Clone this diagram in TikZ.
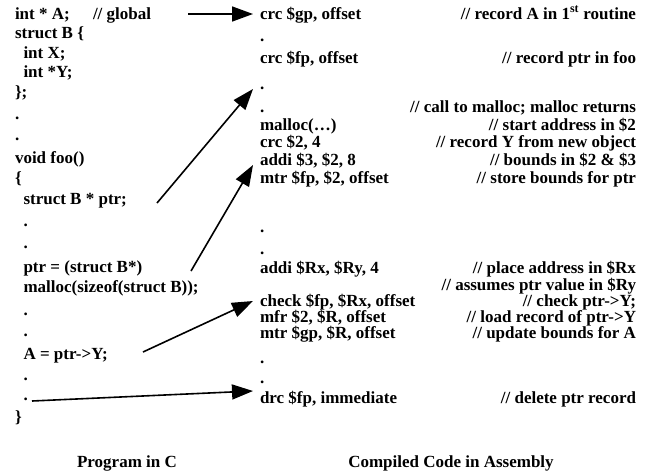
\documentclass[tikz,border=0pt]{standalone}
\usepackage{fontspec}
\setmainfont{Liberation Serif}
\usetikzlibrary{arrows.meta}
\begin{document}
\begin{tikzpicture}[x=1pt,y=-1pt,
  every node/.style={inner sep=0pt, outer sep=0pt, font=\fontsize{17}{20}\selectfont\bfseries},
  codeline/.style={anchor=base west},
  cmtline/.style={anchor=base east},
  capline/.style={anchor=base},
  arr/.style={line width=1.6pt, -{Triangle[length=21pt,width=15pt]}}]
\useasboundingbox (0,0) rectangle (652,474);
% left column: C program
\node[codeline] (l1) at (15,19) {int * A;};
\node[codeline] (g1) at (93,19) {// global};
\node[codeline] (l2) at (15,38) {struct B \{};
\node[codeline] (l3) at (23.5,58) {int X;};
\node[codeline] (l4) at (23.5,77) {int *Y;};
\node[codeline] (l5) at (15,97) {\};};
\node[codeline] (l6) at (15,119) {.};
\node[codeline] (l7) at (15,140) {.};
\node[codeline] (l8) at (15,163) {void foo()};
\node[codeline] (l9) at (15,183) {\{};
\node[codeline] (l10) at (23.5,204) {struct B * ptr;};
\node[codeline] (l11) at (23.5,226) {.};
\node[codeline] (l12) at (23.5,248) {.};
\node[codeline] (l13) at (23.5,272) {ptr = (struct B*)};
\node[codeline] (l14) at (23.5,292) {malloc(sizeof(struct B));};
\node[codeline] (l15) at (23.5,315) {.};
\node[codeline] (l16) at (23.5,336) {.};
\node[codeline] (l17) at (23.5,359) {A = ptr->Y;};
\node[codeline] (l18) at (23.5,380) {.};
\node[codeline] (l19) at (23.5,400) {.};
\node[codeline] (l20) at (15,422) {\}};
% right column: assembly
\node[codeline] (r1) at (260,19) {crc \$gp, offset};
\node[codeline] (r2) at (260,41) {.};
\node[codeline] (r3) at (260,63) {crc \$fp, offset};
\node[codeline] (r4) at (260,89) {.};
\node[codeline] (r5) at (260,112) {.};
\node[codeline] (r6) at (260,130) {malloc(…)};
\node[codeline] (r7) at (260,147) {crc \$2, 4};
\node[codeline] (r8) at (260,165) {addi \$3, \$2, 8};
\node[codeline] (r9) at (260,183) {mtr \$fp, \$2, offset};
\node[codeline] (r10) at (260,232) {.};
\node[codeline] (r11) at (260,254) {.};
\node[codeline] (r12) at (260,273) {addi \$Rx, \$Ry, 4};
\node[codeline] (r13) at (260,306) {check \$fp, \$Rx, offset};
\node[codeline] (r14) at (260,322) {mfr \$2, \$R, offset};
\node[codeline] (r15) at (260,338) {mtr \$gp, \$R, offset};
\node[codeline] (r16) at (260,363) {.};
\node[codeline] (r17) at (260,383) {.};
\node[codeline] (r18) at (260,403) {drc \$fp, immediate};
% comments
\node[cmtline] (c1) at (636,19) {// record A in 1\textsuperscript{st} routine};
\node[cmtline] (c2) at (636,63) {// record ptr in foo};
\node[cmtline] (c3) at (636,112) {// call to malloc; malloc returns};
\node[cmtline] (c4) at (636,130) {// start address in \$2};
\node[cmtline] (c5) at (636,147) {// record Y from new object};
\node[cmtline] (c6) at (636,165) {// bounds in \$2 \& \$3};
\node[cmtline] (c7) at (636,183) {// store bounds for ptr};
\node[cmtline] (c8) at (636,273) {// place address in \$Rx};
\node[cmtline] (c9) at (636,290) {// assumes ptr value in \$Ry};
\node[cmtline] (c10) at (636,306) {// check ptr->Y;};
\node[cmtline] (c11) at (636,322) {// load record of ptr->Y};
\node[cmtline] (c12) at (636,338) {// update bounds for A};
\node[cmtline] (c13) at (636,403) {// delete ptr record};
% captions
\node[capline] (cap1) at (127,467) {Program in C};
\node[capline] (cap2) at (451,467) {Compiled Code in Assembly};
% arrow end points
\coordinate (a1s) at (188,14);  \coordinate (a1e) at (253,14);
\coordinate (a2s) at (157,203); \coordinate (a2e) at (253,89);
\coordinate (a3s) at (191,271); \coordinate (a3e) at (253,165);
\coordinate (a4s) at (143,352); \coordinate (a4e) at (253,301);
\coordinate (a5s) at (32,401);  \coordinate (a5e) at (253,391);
\draw[arr] (a1s) -- (a1e);
\draw[arr] (a2s) -- (a2e);
\draw[arr] (a3s) -- (a3e);
\draw[arr] (a4s) -- (a4e);
\draw[arr] (a5s) -- (a5e);
\end{tikzpicture}
\end{document}
